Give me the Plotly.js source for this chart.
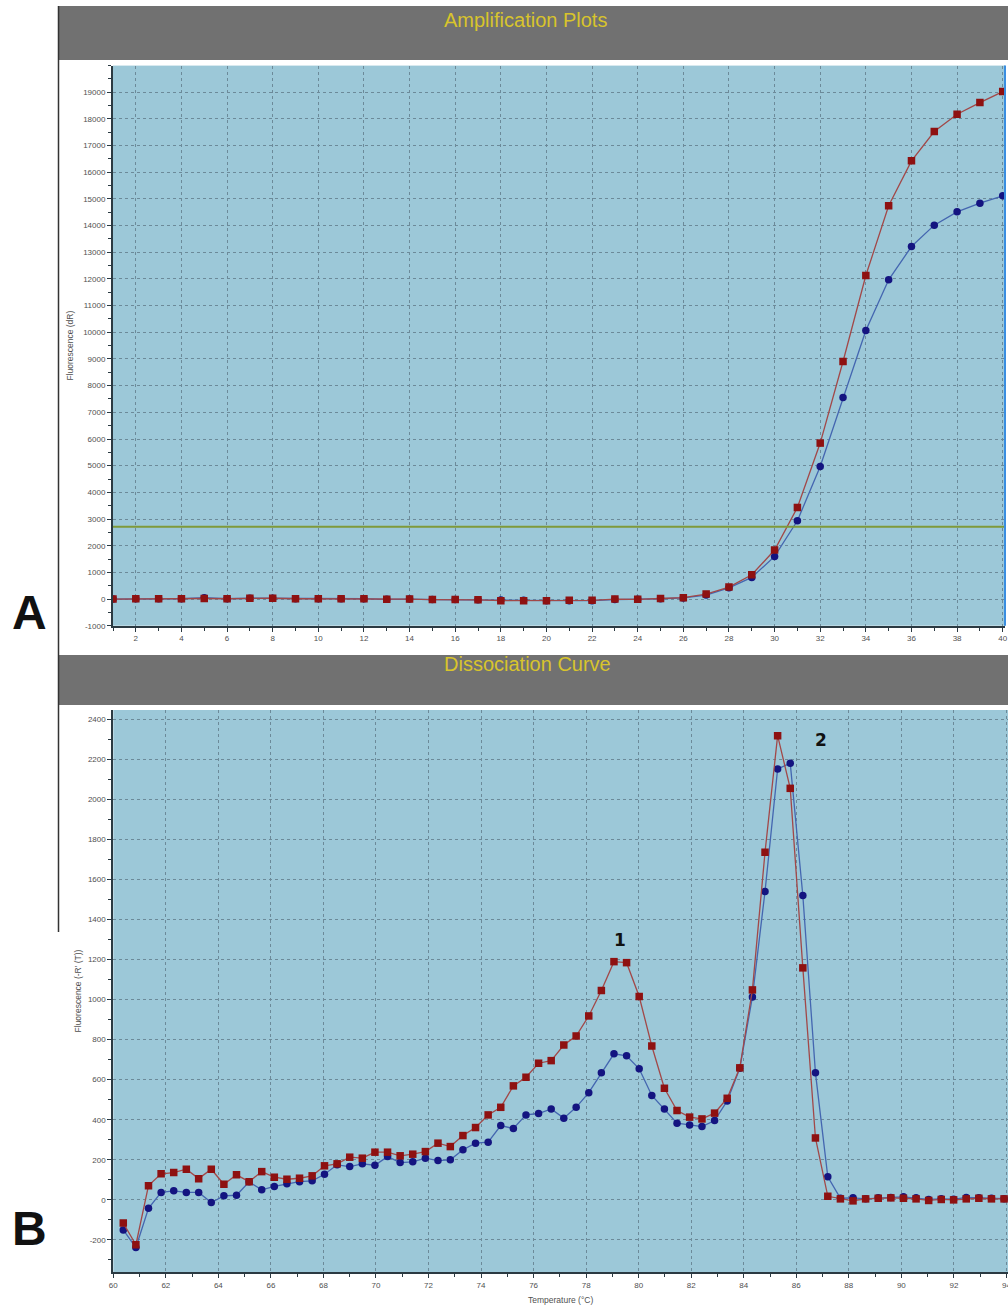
<!DOCTYPE html>
<html>
<head>
<meta charset="utf-8">
<script src="https://cdn.plot.ly/plotly-3.0.1.min.js"></script>
<style>
html,body{margin:0;padding:0;background:#fff;overflow:hidden;}
#chart{width:1008px;height:1308px;}
</style>
</head>
<body>
<div id="chart"></div>
<script>
// ---------- Amplification plot data ----------
const cycles = [1,2,3,4,5,6,7,8,9,10,11,12,13,14,15,16,17,18,19,20,21,22,23,24,25,26,27,28,29,30,31,32,33,34,35,36,37,38,39,40];
const ampRed = [0,10,10,10,20,10,30,30,10,10,10,10,-10,0,-20,-20,-30,-60,-60,-60,-50,-50,0,-10,20,50,187,450,911,1836,3433,5847,8906,12130,14744,16428,17527,18178,18614,19026];
const ampBlue = [0,10,10,10,50,10,30,30,10,10,10,10,-10,0,-20,-20,-30,-40,-50,-60,-60,-60,-20,-10,10,40,150,420,810,1597,2934,4970,7556,10068,11968,13216,14018,14516,14842,15116];
const threshold = 2710;
const ampYTickVals = [-1000,0,1000,2000,3000,4000,5000,6000,7000,8000,9000,10000,11000,12000,13000,14000,15000,16000,17000,18000,19000];
const ampYTickText = ['-1000','0','1000','2000','3000','4000','5000','6000','7000','8000','9000','10000','11000','12000','13000','14000','15000','16000','17000','18000','19000'];

// ---------- Dissociation curve data ----------
const temps = [60.38,60.86,61.34,61.82,62.30,62.78,63.25,63.73,64.21,64.69,
  65.17,65.65,66.13,66.61,67.09,67.57,68.04,68.52,69.00,69.48,
  69.96,70.44,70.92,71.40,71.88,72.36,72.83,73.31,73.79,74.27,
  74.75,75.23,75.71,76.19,76.67,77.15,77.62,78.10,78.58,79.06,
  79.54,80.02,80.50,80.98,81.46,81.94,82.41,82.89,83.37,83.85,
  84.33,84.81,85.29,85.77,86.25,86.73,87.20,87.68,88.16,88.64,
  89.12,89.60,90.08,90.56,91.04,91.52,91.99,92.47,92.95,93.43,93.91];
const meltRed = [-116,-224,71,130,136,153,106,153,78,125,
  91,141,113,103,108,120,170,180,213,208,
  238,238,220,228,241,283,266,321,361,424,
  462,569,612,682,695,773,818,918,1045,1189,
  1184,1015,768,557,446,413,404,433,507,659,
  1048,1735,2317,2054,1158,309,18,5,-5,5,
  8,10,8,5,-3,2,0,5,8,5,5];
const meltBlue = [-150,-238,-42,37,45,37,37,-13,20,23,
  90,50,67,80,91,95,128,175,166,180,
  173,216,186,190,208,196,200,250,283,288,
  371,356,424,431,454,408,462,535,635,729,
  719,654,521,453,383,374,366,396,494,657,
  1013,1539,2151,2179,1519,634,115,8,10,5,
  10,12,15,10,2,5,3,12,10,8,6];
const meltYTickVals = [-200,0,200,400,600,800,1000,1200,1400,1600,1800,2000,2200,2400];
const meltYTickText = ['-200','0','200','400','600','800','1000','1200','1400','1600','1800','2000','2200','2400'];

const W = 1008, H = 1308;
const fx = x => x / W;
const fy = y => 1 - y / H;

const redLine = '#a24848', redMark = '#8e1111';
const blueLine = '#4466b0', blueMark = '#141480';
const gridCol = '#6c8a99';
const tickFont = {family: 'Liberation Sans, Arial, sans-serif', size: 8, color: '#505050'};
const titleFont = {family: 'Liberation Sans, Arial, sans-serif', size: 8.5, color: '#505050'};
const axisCol = '#2b3a42';

const traces = [
  {x: cycles, y: ampBlue, xaxis: 'x', yaxis: 'y', mode: 'lines+markers', name: 'Sample 2',
   line: {color: blueLine, width: 1.3}, marker: {symbol: 'circle', size: 7.5, color: blueMark}},
  {x: cycles, y: ampRed, xaxis: 'x', yaxis: 'y', mode: 'lines+markers', name: 'Sample 1',
   line: {color: redLine, width: 1.3}, marker: {symbol: 'square', size: 7.5, color: redMark}},
  {x: temps, y: meltBlue, xaxis: 'x2', yaxis: 'y2', mode: 'lines+markers', name: 'Sample 2',
   line: {color: blueLine, width: 1.3}, marker: {symbol: 'circle', size: 7.5, color: blueMark}},
  {x: temps, y: meltRed, xaxis: 'x2', yaxis: 'y2', mode: 'lines+markers', name: 'Sample 1',
   line: {color: redLine, width: 1.3}, marker: {symbol: 'square', size: 7.5, color: redMark}}
];

const axCommon = {
  showgrid: true, gridcolor: gridCol, gridwidth: 1, griddash: 'dot',
  zeroline: false, showline: true, linecolor: axisCol, linewidth: 2,
  ticks: 'outside', ticklen: 4, tickwidth: 1, tickcolor: axisCol,
  tickfont: tickFont, fixedrange: true, ticklabeloverflow: 'allow'
};

const layout = {
  width: W, height: H,
  margin: {l: 0, r: 0, t: 0, b: 0},
  paper_bgcolor: '#ffffff',
  plot_bgcolor: '#9cc8d8',
  showlegend: false,
  xaxis: Object.assign({}, axCommon, {
    domain: [fx(113), fx(1005)], range: [1, 40.1], anchor: 'y',
    tick0: 0, dtick: 2,
    minor: {ticks: 'outside', ticklen: 3, tickmode: 'linear', dtick: 1, tick0: 0, tickcolor: axisCol, showgrid: false}
  }),
  yaxis: Object.assign({}, axCommon, {
    domain: [fy(625.7), fy(65.6)], range: [-1000, 20000], anchor: 'x',
    tickmode: 'array', tickvals: ampYTickVals, ticktext: ampYTickText,
    minor: {ticks: 'outside', ticklen: 3, tickmode: 'linear', dtick: 500, tick0: 0, tickcolor: axisCol, showgrid: false},
    title: {text: 'Fluorescence (dR)', font: titleFont, standoff: 8}
  }),
  xaxis2: Object.assign({}, axCommon, {
    domain: [fx(113.3), 1], range: [60, 94.06], anchor: 'y2',
    tick0: 0, dtick: 2,
    minor: {ticks: 'outside', ticklen: 3, tickmode: 'linear', dtick: 1, tick0: 0, tickcolor: axisCol, showgrid: false},
    title: {text: 'Temperature (°C)', font: titleFont, standoff: 8}
  }),
  yaxis2: Object.assign({}, axCommon, {
    domain: [fy(1272), fy(710)], range: [-360, 2445], anchor: 'x2',
    tickmode: 'array', tickvals: meltYTickVals, ticktext: meltYTickText,
    minor: {ticks: 'outside', ticklen: 3, tickmode: 'linear', dtick: 100, tick0: 0, tickcolor: axisCol, showgrid: false},
    title: {text: "Fluorescence (-R' (T))", font: titleFont, standoff: 5}
  }),
  shapes: [
    {type: 'rect', xref: 'paper', yref: 'paper', x0: fx(58), x1: 1, y0: fy(60), y1: fy(6),
     fillcolor: '#717171', line: {width: 0}, layer: 'below'},
    {type: 'rect', xref: 'paper', yref: 'paper', x0: fx(58), x1: 1, y0: fy(705), y1: fy(655),
     fillcolor: '#717171', line: {width: 0}, layer: 'below'},
    {type: 'line', xref: 'paper', yref: 'paper', x0: fx(58.5), x1: fx(58.5), y0: fy(932), y1: fy(6),
     line: {color: '#333333', width: 1.5}},
    {type: 'line', xref: 'x domain', yref: 'y', x0: 0, x1: 1, y0: threshold, y1: threshold,
     line: {color: '#7f9a3a', width: 2}},
    {type: 'line', xref: 'x domain', yref: 'y domain', x0: 1, x1: 1, y0: 0, y1: 1,
     line: {color: '#3a8ee0', width: 2}}
  ],
  annotations: [
    {text: 'Amplification Plots', xref: 'paper', yref: 'paper', x: fx(525), y: fy(20),
     xanchor: 'center', yanchor: 'middle', showarrow: false,
     font: {family: 'Liberation Sans, Arial, sans-serif', size: 20, color: '#d8c42c'}},
    {text: 'Dissociation Curve', xref: 'paper', yref: 'paper', x: fx(527), y: fy(664),
     xanchor: 'center', yanchor: 'middle', showarrow: false,
     font: {family: 'Liberation Sans, Arial, sans-serif', size: 20, color: '#d8c42c'}},
    {text: '<b>A</b>', xref: 'paper', yref: 'paper', x: fx(29), y: fy(612),
     xanchor: 'center', yanchor: 'middle', showarrow: false,
     font: {family: 'Liberation Sans, Arial, sans-serif', size: 48, color: '#111'}},
    {text: '<b>B</b>', xref: 'paper', yref: 'paper', x: fx(29), y: fy(1228),
     xanchor: 'center', yanchor: 'middle', showarrow: false,
     font: {family: 'Liberation Sans, Arial, sans-serif', size: 48, color: '#111'}},
    {text: '<b>1</b>', xref: 'paper', yref: 'paper', x: fx(620), y: fy(940),
     xanchor: 'center', yanchor: 'middle', showarrow: false,
     font: {family: 'DejaVu Sans, sans-serif', size: 17, color: '#111'}},
    {text: '<b>2</b>', xref: 'paper', yref: 'paper', x: fx(821), y: fy(740),
     xanchor: 'center', yanchor: 'middle', showarrow: false,
     font: {family: 'DejaVu Sans, sans-serif', size: 17, color: '#111'}}
  ]
};

Plotly.newPlot('chart', traces, layout, {staticPlot: true, displayModeBar: false});
</script>
</body>
</html>
